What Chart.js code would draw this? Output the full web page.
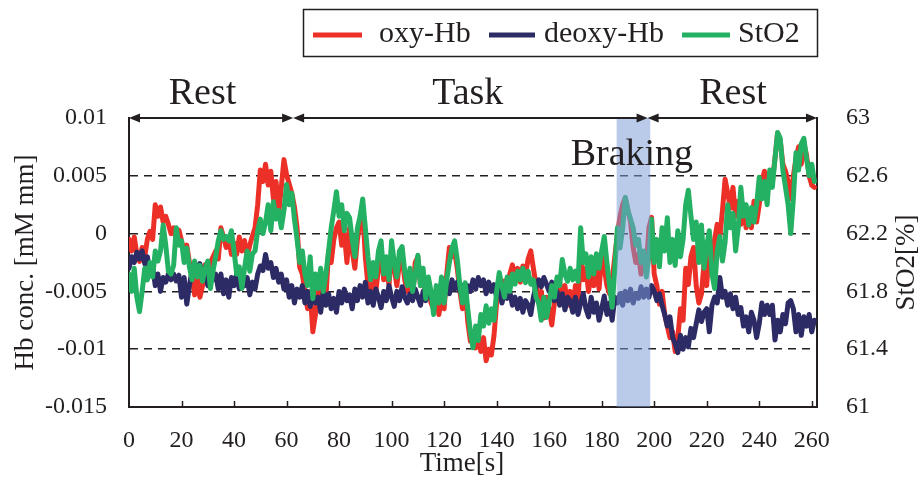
<!DOCTYPE html>
<html>
<head>
<meta charset="utf-8">
<title>Hb concentration and StO2 during rest / task / braking</title>
<script src="https://cdn.jsdelivr.net/npm/chart.js@4.4.1/dist/chart.umd.min.js"></script>
<style>
  html, body { margin: 0; padding: 0; background: #fff; }
  #wrap { width: 921px; height: 477px; }
</style>
</head>
<body>
<div id="wrap"><canvas id="chart" width="921" height="477"></canvas></div>
<script>
// one sample per second, t = 0 .. 261 s
// Hb values are in units of 1e-3 mM mm
const oxyHb = [
  -0.5, -1.5, -0.3, -1.8, -2.4, -1.2, -2.0, -0.5, 0.2, -0.5, 2.5, 1.5, 2.3, 1.0, 1.5, 0.8,
  0.0, 0.5, -0.6, 0.3, -0.6, -1.8, -1.0, -2.5, -3.5, -5.3, -3.8, -5.5, -4.5, -2.7, -3.5, -2.5,
  -2.0, -1.5, -2.2, 0.5, -0.3, -1.2, -0.5, -1.8, -0.8, -1.8, -0.3, -1.5, -0.6, -2.0, -1.0, -0.2,
  0.5, 2.5, 5.5, 4.5, 6.0, 4.2, 5.4, 3.0, 4.5, 1.7, 4.0, 6.4, 5.1, 4.3, 3.5, 2.3,
  0.5, -2.9, -3.5, -5.0, -6.5, -5.0, -8.5, -7.0, -4.5, -5.8, -4.4, -5.5, -1.5, -2.5, -0.5, 0.5,
  1.0, -1.0, 0.0, -2.5, 0.5, -1.5, -3.0, -0.5, 1.0, 2.0, -2.0, -4.5, -5.6, -4.0, -5.0, -3.0,
  -1.5, -4.0, -2.5, -4.5, -1.5, -3.0, -4.5, -2.5, -2.0, -4.0, -5.0, -3.5, -5.5, -2.5, -2.0, -4.5,
  -3.5, -5.5, -4.5, -6.0, -6.5, -5.0, -7.0, -5.6, -6.5, -3.5, -1.2, -2.0, -1.5, -3.0, -5.0, -6.5,
  -4.5, -7.6, -9.3, -8.5, -9.9, -8.8, -10.2, -9.0, -11.0, -10.0, -10.5, -8.8, -6.0, -4.5, -5.8, -4.1,
  -5.0, -3.5, -2.7, -3.8, -3.0, -4.2, -2.8, -3.5, -2.2, -1.5, -3.0, -4.4, -6.0, -5.0, -7.3, -5.5,
  -6.5, -7.9, -6.0, -5.0, -4.2, -5.5, -4.5, -6.2, -5.0, -6.7, -4.5, -5.8, -1.8, -4.0, -3.0, -5.0,
  -3.5, -4.5, -2.5, -4.8, -2.0, -3.0, -4.5, -5.2, -4.0, -2.0, 0.0, 1.5, 2.5, 3.1, 2.0, 1.0,
  -1.2, -2.5, -1.8, -3.5, -2.2, -3.0, 0.5, 1.4, -3.5, -4.5, -6.1, -5.0, -7.0, -8.0, -9.0, -8.5,
  -10.2, -9.0, -6.5, -7.5, -3.0, -4.4, -2.0, -1.2, -4.5, -6.0, -5.2, -2.5, -4.5, -1.0, -3.5, -0.5,
  0.8, -0.3, 2.0, 4.7, 3.5, 2.2, 4.0, 1.5, 2.8, 0.8, 2.5, 0.5, 2.0, 0.5, 2.8, 1.0,
  2.5, 4.5, 5.4, 4.0, 5.0, 4.5, 6.5, 8.7, 8.0, 6.0, 5.4, 4.5, 3.0, 5.0, 6.5, 7.5,
  6.0, 7.8, 6.8, 5.0, 4.2, 4.0
];

const deoxyHb = [
  -3.0, -2.0, -2.5, -1.6, -2.2, -1.5, -2.6, -2.0, -3.5, -2.8, -4.5, -3.5, -5.0, -3.8, -4.2, -3.5,
  -4.0, -3.5, -4.1, -3.6, -5.5, -3.8, -6.1, -4.5, -3.2, -2.5, -3.5, -2.6, -3.8, -3.0, -4.5, -3.2,
  -4.0, -3.5, -4.8, -3.5, -5.2, -4.0, -5.5, -3.8, -4.5, -3.5, -4.8, -4.0, -4.5, -3.8, -5.3, -4.2,
  -4.8, -3.5, -2.8, -3.2, -1.8, -3.0, -2.5, -3.8, -3.0, -4.2, -3.5, -4.8, -4.0, -5.5, -4.5, -6.0,
  -4.8, -5.5, -4.5, -6.0, -5.0, -6.3, -5.2, -6.0, -5.5, -6.8, -5.0, -6.2, -5.2, -6.5, -5.6, -6.8,
  -5.0, -6.0, -4.8, -5.8, -5.3, -6.5, -4.8, -5.8, -4.5, -5.5, -4.2, -6.0, -5.0, -6.2, -4.8, -5.5,
  -6.4, -5.0, -5.8, -4.5, -5.5, -6.3, -5.0, -5.8, -4.6, -5.5, -6.0, -5.2, -5.8, -4.8, -5.5, -6.2,
  -5.0, -5.8, -4.5, -5.5, -6.0, -5.2, -5.8, -4.8, -5.5, -4.5, -5.2, -4.0, -4.8, -4.2, -5.0, -4.5,
  -5.5, -4.5, -5.0, -4.0, -4.8, -3.8, -4.5, -4.0, -5.2, -4.2, -5.0, -4.4, -5.5, -4.8, -6.0, -5.2,
  -5.6, -5.0, -6.2, -5.5, -6.5, -5.6, -6.8, -5.8, -6.2, -7.0, -5.5, -4.5, -4.0, -4.6, -3.8, -4.4,
  -5.0, -4.2, -5.8, -5.0, -6.2, -5.2, -6.6, -5.5, -5.8, -6.8, -5.5, -7.0, -6.0, -5.2, -6.5, -7.2,
  -5.5, -6.8, -6.0, -7.5, -6.5, -5.4, -7.0, -6.0, -7.5, -5.5, -6.0, -5.2, -6.2, -5.0, -5.8, -4.8,
  -6.0, -5.2, -5.6, -4.6, -5.5, -4.8, -5.5, -4.5, -5.0, -5.8, -5.2, -6.2, -7.0, -8.0, -7.2, -9.0,
  -9.5, -10.3, -8.8, -10.0, -9.0, -9.8, -8.2, -9.0, -7.8, -6.6, -7.6, -6.8, -6.5, -8.5, -6.2, -5.5,
  -6.0, -3.8, -5.5, -5.0, -6.2, -5.2, -6.5, -5.5, -7.0, -6.4, -8.0, -7.2, -8.5, -6.8, -7.5, -9.0,
  -7.8, -6.0, -7.0, -6.2, -7.0, -6.2, -9.2, -7.5, -8.5, -7.0, -7.8, -6.0, -5.8, -6.5, -8.5, -7.0,
  -8.8, -7.2, -8.0, -7.0, -8.5, -7.5
];

// StO2 in %
const stO2 = [
  61.92, 61.80, 61.96, 61.76, 61.66, 61.80, 61.96, 61.88, 62.00, 61.90, 62.08, 62.01, 62.08, 62.26, 62.12, 61.94,
  61.92, 61.98, 62.24, 62.12, 62.15, 62.00, 62.10, 61.97, 61.88, 62.01, 61.90, 61.98, 61.87, 61.96, 62.01, 61.82,
  61.94, 62.04, 62.15, 62.22, 62.16, 62.18, 62.15, 62.22, 62.08, 61.92, 61.97, 61.82, 61.96, 62.08, 61.94, 62.06,
  62.08, 62.22, 62.30, 62.20, 62.28, 62.40, 62.22, 62.42, 62.30, 62.36, 62.24, 62.36, 62.54, 62.40, 62.48, 62.30,
  62.16, 62.00, 62.08, 61.92, 61.84, 62.04, 61.75, 61.92, 61.82, 61.96, 61.80, 61.92, 62.08, 62.24, 62.36, 62.49,
  62.32, 62.40, 62.22, 62.34, 62.31, 62.16, 62.04, 62.24, 62.32, 62.44, 62.24, 62.04, 61.88, 62.00, 61.90, 62.08,
  62.15, 61.92, 62.04, 61.88, 62.15, 62.00, 61.90, 62.08, 62.11, 61.94, 61.84, 61.96, 61.80, 61.92, 62.05, 61.84,
  61.96, 61.75, 61.90, 61.80, 61.64, 61.84, 61.72, 61.90, 61.72, 61.88, 62.00, 62.10, 62.15, 62.02, 61.84, 61.72,
  61.86, 61.68, 61.52, 61.41, 61.56, 61.46, 61.64, 61.56, 61.70, 61.58, 61.68, 61.60, 61.80, 61.93, 61.84, 61.76,
  61.90, 61.80, 61.92, 61.85, 61.94, 61.88, 61.96, 61.86, 61.94, 61.85, 61.88, 61.76, 61.72, 61.60, 61.76, 61.62,
  61.72, 61.84, 61.76, 61.90, 61.84, 62.02, 61.92, 61.87, 61.96, 61.88, 61.94, 61.87, 62.24, 62.00, 62.06, 61.90,
  62.04, 61.92, 62.06, 61.96, 62.08, 62.18, 62.00, 61.84, 61.69, 61.96, 62.24, 62.10, 62.24, 62.45, 62.36, 62.30,
  62.24, 62.12, 62.16, 62.00, 62.08, 61.90, 62.04, 62.30, 62.00, 62.16, 61.97, 62.24, 62.08, 62.31, 62.00, 62.16,
  61.98, 62.22, 62.04, 62.16, 62.40, 62.50, 62.32, 62.16, 62.28, 62.00, 62.26, 61.96, 62.12, 62.22, 61.92, 61.82,
  62.08, 62.18, 62.01, 62.14, 62.40, 62.24, 62.34, 62.08, 62.24, 62.52, 62.32, 62.40, 62.26, 62.38, 62.28, 62.40,
  62.59, 62.44, 62.56, 62.40, 62.64, 62.52, 62.72, 62.90, 62.86, 62.64, 62.52, 62.40, 62.20, 62.44, 62.76, 62.64,
  62.82, 62.86, 62.72, 62.60, 62.68, 62.56
];

const timeTicks = [0, 20, 40, 60, 80, 100, 120, 140, 160, 180, 200, 220, 240, 260];
const hbTicks = [-0.015, -0.01, -0.005, 0, 0.005, 0.01];
const sto2Ticks = [61, 61.4, 61.8, 62.2, 62.6, 63];

// experiment phases [s]
const phaseNames = ['Rest', 'Task', 'Rest'];
const phaseStart = [0, 62.5, 197.5];
const phaseEnd = [62.5, 197.5, 262];
const brakingSpan = [185.7, 198.5];

const FONT = "'Liberation Serif', 'Times New Roman', serif";
const INK = '#231f20';
const RED = '#ec3027';
const NAVY = '#2c2b65';
const GREEN = '#25b163';

const toPoints = (arr, k) => arr.map((v, i) => ({ x: i, y: v * k }));

const decorations = {
  id: 'decorations',
  afterDatasetsDraw(chart) {
    const { ctx, chartArea: a, scales: { x } } = chart;
    const b0 = x.getPixelForValue(brakingSpan[0]);
    const b1 = x.getPixelForValue(brakingSpan[1]);
    ctx.save();
    ctx.fillStyle = 'rgba(122, 156, 214, 0.52)';
    ctx.fillRect(b0, a.top, b1 - b0, a.bottom - a.top);
    ctx.restore();
  },
  afterDraw(chart) {
    const { ctx, chartArea: a, scales: { x } } = chart;
    ctx.save();
    ctx.strokeStyle = INK;
    ctx.fillStyle = INK;

    // inner tick marks on the time axis
    ctx.lineWidth = 1.5;
    timeTicks.forEach(v => {
      if (v === 0) return;
      const px = Math.round(x.getPixelForValue(v)) + 0.5;
      ctx.beginPath();
      ctx.moveTo(px, a.bottom);
      ctx.lineTo(px, a.bottom - 6);
      ctx.stroke();
    });

    // phase arrows along the top edge
    const y = a.top;
    const head = (tip, dir) => {
      ctx.beginPath();
      ctx.moveTo(tip, y);
      ctx.lineTo(tip + dir * 11, y - 4.5);
      ctx.lineTo(tip + dir * 11, y + 4.5);
      ctx.closePath();
      ctx.fill();
    };
    ctx.lineWidth = 2;
    phaseNames.forEach((name, i) => {
      const x0 = x.getPixelForValue(phaseStart[i]);
      const x1 = x.getPixelForValue(phaseEnd[i]);
      ctx.beginPath();
      ctx.moveTo(x0 + 4, y);
      ctx.lineTo(x1 - 4, y);
      ctx.stroke();
      head(x0, 1);
      head(x1, -1);
    });

    // phase labels
    ctx.font = `38px ${FONT}`;
    ctx.textAlign = 'center';
    ctx.textBaseline = 'alphabetic';
    const labelAt = [28, 129, 230];
    phaseNames.forEach((name, i) => {
      ctx.fillText(name, x.getPixelForValue(labelAt[i]), 104);
    });
    ctx.fillText('Braking', x.getPixelForValue(191.5), 165);

    // axis titles
    ctx.font = `27px ${FONT}`;
    ctx.textBaseline = 'middle';
    ctx.save();
    ctx.translate(26, (a.top + a.bottom) / 2);
    ctx.rotate(-Math.PI / 2);
    ctx.fillText('Hb conc. [mM mm]', 0, 0);
    ctx.restore();
    ctx.save();
    ctx.translate(907, (a.top + a.bottom) / 2);
    ctx.rotate(-Math.PI / 2);
    ctx.fillText('StO2[%]', 0, 0);
    ctx.restore();
    ctx.textBaseline = 'alphabetic';
    ctx.fillText('Time[s]', 462, 471);

    // legend box
    ctx.lineWidth = 1.5;
    ctx.strokeRect(303.5, 9.5, 514, 47);
    const legend = [
      { text: 'oxy-Hb', color: RED, l0: 313, l1: 362, tx: 379 },
      { text: 'deoxy-Hb', color: NAVY, l0: 489, l1: 535, tx: 544 },
      { text: 'StO2', color: GREEN, l0: 682, l1: 730, tx: 738 }
    ];
    ctx.font = `30px ${FONT}`;
    ctx.textAlign = 'left';
    legend.forEach(it => {
      ctx.strokeStyle = it.color;
      ctx.lineWidth = 5;
      ctx.beginPath();
      ctx.moveTo(it.l0, 35);
      ctx.lineTo(it.l1, 35);
      ctx.stroke();
      ctx.fillStyle = INK;
      ctx.fillText(it.text, it.tx, 42);
    });
    ctx.restore();
  }
};

const lineStyle = {
  borderWidth: 5,
  pointRadius: 0,
  tension: 0,
  borderJoinStyle: 'round',
  borderCapStyle: 'round',
  fill: false
};

new Chart(document.getElementById('chart'), {
  type: 'line',
  data: {
    datasets: [
      { label: 'oxy-Hb', data: toPoints(oxyHb, 1e-3), borderColor: RED, yAxisID: 'y', order: 3, ...lineStyle },
      { label: 'deoxy-Hb', data: toPoints(deoxyHb, 1e-3), borderColor: NAVY, yAxisID: 'y', order: 2, ...lineStyle },
      { label: 'StO2', data: toPoints(stO2, 1), borderColor: GREEN, yAxisID: 'y2', order: 1, ...lineStyle }
    ]
  },
  options: {
    responsive: false,
    animation: false,
    events: [],
    layout: { padding: { top: 118, left: 0, right: 0, bottom: 0 } },
    plugins: {
      legend: { display: false },
      tooltip: { enabled: false }
    },
    scales: {
      x: {
        type: 'linear',
        min: 0,
        max: 262,
        afterBuildTicks: s => { s.ticks = timeTicks.map(v => ({ value: v })); },
        afterFit: s => { s.height = 70; },
        grid: { display: false },
        border: { display: true, color: INK, width: 2 },
        ticks: {
          font: { family: FONT, size: 24 },
          color: INK,
          padding: 11,
          maxRotation: 0,
          autoSkip: false,
          callback: v => String(v)
        }
      },
      y: {
        position: 'left',
        min: -0.015,
        max: 0.01,
        afterBuildTicks: s => { s.ticks = hbTicks.map(v => ({ value: v })); },
        afterFit: s => { s.width = 129; },
        grid: {
          drawTicks: false,
          lineWidth: 1.5,
          color: c => (c.index === 0 || c.index === hbTicks.length - 1) ? 'rgba(0,0,0,0)' : INK
        },
        border: { display: true, color: INK, width: 2, dash: [8, 6] },
        ticks: {
          font: { family: FONT, size: 24 },
          color: INK,
          padding: 22,
          callback: v => String(parseFloat(Number(v).toFixed(3)))
        }
      },
      y2: {
        position: 'right',
        min: 61,
        max: 63,
        afterBuildTicks: s => { s.ticks = sto2Ticks.map(v => ({ value: v })); },
        afterFit: s => { s.width = 104; },
        grid: { display: false },
        border: { display: true, color: INK, width: 2 },
        ticks: {
          font: { family: FONT, size: 24 },
          color: INK,
          padding: 21,
          callback: v => String(parseFloat(Number(v).toFixed(1)))
        }
      }
    }
  },
  plugins: [decorations]
});
</script>
</body>
</html>
